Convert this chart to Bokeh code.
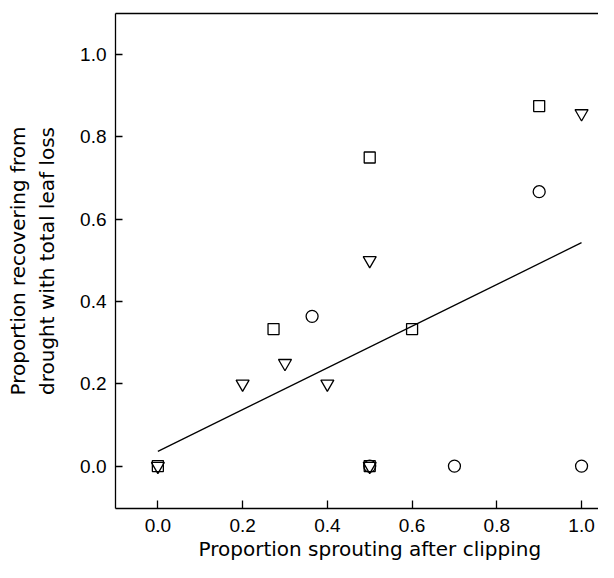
from bokeh.plotting import figure
from bokeh.models import Range1d, FixedTicker, PrintfTickFormatter, LinearAxis, Title
from bokeh.embed import file_html
from bokeh.resources import INLINE

# Data
square_x = [0.0, 0.5, 0.273, 0.6, 0.5, 0.9]
square_y = [0.0, 0.0, 0.333, 0.333, 0.75, 0.875]

triangle_x = [0.0, 0.5, 0.2, 0.3, 0.4, 0.5, 1.0]
triangle_y = [0.0, 0.0, 0.2, 0.25, 0.2, 0.5, 0.857]

circle_x = [0.5, 0.7, 1.0, 0.364, 0.9]
circle_y = [0.0, 0.0, 0.0, 0.364, 0.667]

fit_x = [0.0, 1.0]
fit_y = [0.036, 0.543]

x_ticks = [0.0, 0.2, 0.4, 0.6, 0.8, 1.0]
y_ticks = [0.0, 0.2, 0.4, 0.6, 0.8, 1.0]

x_title = "Proportion sprouting after clipping"
y_title = "Proportion recovering from\ndrought with total leaf loss"

p = figure(width=598, height=562, output_backend="svg", toolbar_location=None,
           x_range=Range1d(-0.1, 1.04), y_range=Range1d(-0.103, 1.1),
           min_border_left=115, min_border_right=0, min_border_top=13,
           min_border_bottom=54)
p.grid.visible = False
p.outline_line_color = None
p.background_fill_color = "white"
p.border_fill_color = "white"

for ax, ticks in ((p.xaxis[0], x_ticks), (p.yaxis[0], y_ticks)):
    ax.ticker = FixedTicker(ticks=ticks)
    ax.formatter = PrintfTickFormatter(format="%.1f")
    ax.major_tick_in = 7
    ax.major_tick_out = 0
    ax.minor_tick_in = 0
    ax.minor_tick_out = 0
    ax.axis_line_width = 1.3
    ax.axis_line_color = "black"
    ax.major_tick_line_width = 1.3
    ax.major_tick_line_color = "black"
    ax.major_label_text_font = "Liberation Sans"
    ax.major_label_text_font_size = "19px"
    ax.major_label_text_color = "black"
    ax.axis_label_text_font = "DejaVu Sans"
    ax.axis_label_text_font_size = "20px"
    ax.axis_label_text_font_style = "normal"
    ax.axis_label_text_color = "black"

p.xaxis[0].major_tick_in = 8
p.xaxis[0].major_label_standoff = 10

p.yaxis[0].major_label_standoff = 9
p.yaxis[0].axis_label = y_title
p.yaxis[0].axis_label_standoff = 18

top = LinearAxis(ticker=FixedTicker(ticks=[]), major_tick_in=0, major_tick_out=0,
                 minor_tick_in=0, minor_tick_out=0, major_label_standoff=0,
                 axis_line_width=1.3, axis_line_color="black")
p.add_layout(top, "above")

xt = Title(text=x_title, align="left", offset=83, standoff=0,
           text_font="DejaVu Sans", text_font_size="20px",
           text_font_style="normal", text_color="black")
p.add_layout(xt, "below")

p.line(fit_x, fit_y, line_color="black", line_width=1.3)
p.scatter(square_x, square_y, marker="square", size=11, fill_color=None,
          line_color="black", line_width=1.3)
p.scatter(triangle_x, triangle_y, marker="inverted_triangle", size=13, fill_color=None,
          line_color="black", line_width=1.3)
p.scatter(circle_x, circle_y, marker="circle", size=12, fill_color=None,
          line_color="black", line_width=1.3)

open("out.html", "w").write(file_html(p, INLINE))
